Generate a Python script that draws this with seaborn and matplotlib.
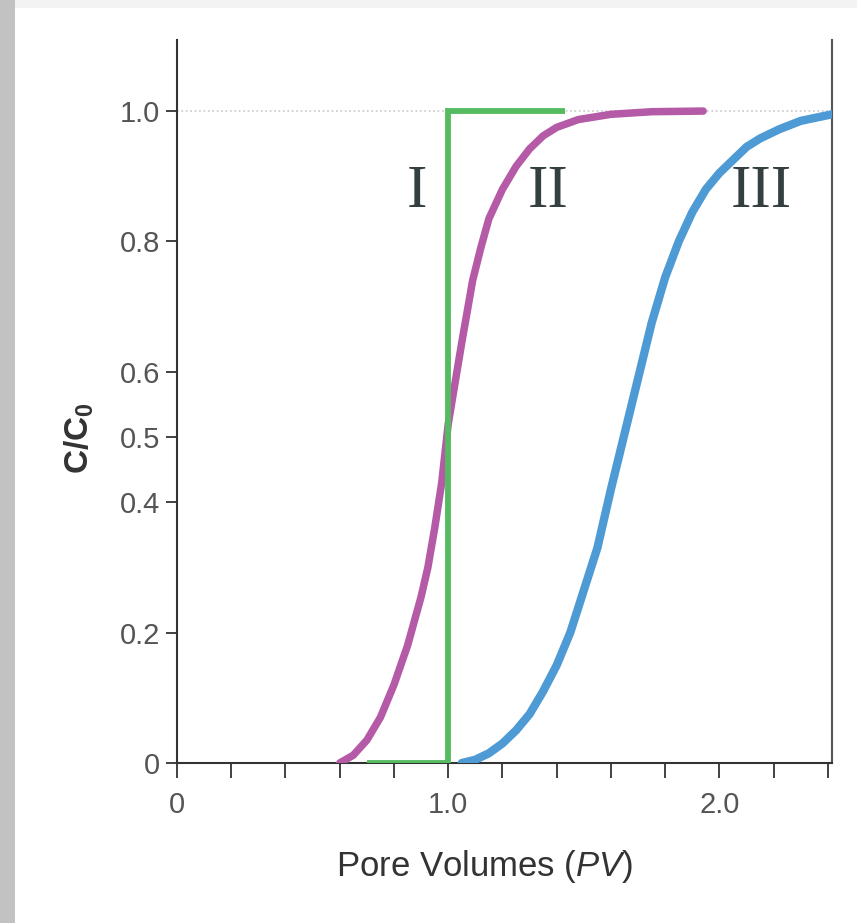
import matplotlib
matplotlib.use("Agg")
import matplotlib.pyplot as plt
import seaborn as sns
import pandas as pd
from matplotlib.patches import Rectangle

# ---- data ----
curve_I_x = [0.70, 1.00, 1.00, 1.43]
curve_I_y = [0.0, 0.0, 1.0, 1.0]

curve_II_x = [0.60, 0.65, 0.70, 0.75, 0.80, 0.85, 0.90, 0.925, 0.95, 0.976,
              1.00, 1.05, 1.09, 1.12, 1.15, 1.20, 1.25, 1.30, 1.35, 1.40,
              1.48, 1.60, 1.75, 1.94]
curve_II_y = [0.0, 0.012, 0.035, 0.07, 0.12, 0.18, 0.255, 0.30, 0.36, 0.43,
              0.52, 0.645, 0.74, 0.79, 0.835, 0.88, 0.915, 0.942, 0.962, 0.975,
              0.987, 0.995, 0.999, 1.0]

curve_III_x = [1.05, 1.10, 1.15, 1.20, 1.25, 1.30, 1.35, 1.40, 1.45, 1.50,
               1.55, 1.60, 1.65, 1.70, 1.75, 1.80, 1.85, 1.90, 1.95, 2.00,
               2.05, 2.10, 2.15, 2.22, 2.30, 2.415]
curve_III_y = [0.0, 0.005, 0.015, 0.03, 0.05, 0.075, 0.11, 0.15, 0.20, 0.265,
               0.33, 0.42, 0.505, 0.59, 0.675, 0.745, 0.80, 0.845, 0.88, 0.905,
               0.925, 0.945, 0.958, 0.972, 0.985, 0.995]

curve_labels = ["I", "II", "III"]
label_x = [0.885, 1.37, 2.155]
label_y = [0.875, 0.875, 0.875]

xticks = [0.0, 0.2, 0.4, 0.6, 0.8, 1.0, 1.2, 1.4, 1.6, 1.8, 2.0, 2.2, 2.4]
xticklabels = ["0", "", "", "", "", "1.0", "", "", "", "", "2.0", "", ""]
yticks = [0.0, 0.2, 0.4, 0.5, 0.6, 0.8, 1.0]
yticklabels = ["0", "0.2", "0.4", "0.5", "0.6", "0.8", "1.0"]

# ---- styling ----
sns.set_theme(style="white")
plt.rcParams["font.family"] = ["Liberation Sans", "DejaVu Sans"]
plt.rcParams["mathtext.fontset"] = "custom"
plt.rcParams["mathtext.rm"] = "Liberation Sans"
plt.rcParams["mathtext.it"] = "Liberation Sans:italic"
plt.rcParams["mathtext.bf"] = "Liberation Sans:bold"

fig = plt.figure(figsize=(8.57, 9.23), dpi=100)
fig.patch.set_facecolor("white")
# scanned-page borders
fig.patches.append(Rectangle((0, 0), 15 / 857, 1, transform=fig.transFigure,
                             facecolor="#c2c2c2", edgecolor="none", zorder=0))
fig.patches.append(Rectangle((15 / 857, 1 - 8 / 923), 1, 8 / 923, transform=fig.transFigure,
                             facecolor="#f3f3f3", edgecolor="none", zorder=0))

ax = fig.add_axes([177 / 857, 1 - 763 / 923, 655 / 857, 723 / 923])
ax.set_facecolor("white")

# reference line at C/C0 = 1
ax.axhline(1.0, color="#c8c8c8", lw=1.2, ls=":", zorder=1)

dfI = pd.DataFrame({"x": curve_I_x, "y": curve_I_y})
dfII = pd.DataFrame({"x": curve_II_x, "y": curve_II_y})
dfIII = pd.DataFrame({"x": curve_III_x, "y": curve_III_y})

sns.lineplot(data=dfII, x="x", y="y", sort=False, estimator=None, ax=ax,
             color="#b45aa6", lw=5.4, solid_capstyle="round", solid_joinstyle="round", zorder=3)
sns.lineplot(data=dfIII, x="x", y="y", sort=False, estimator=None, ax=ax,
             color="#4d9ad5", lw=6.0, solid_capstyle="round", solid_joinstyle="round", zorder=3)
sns.lineplot(data=dfI, x="x", y="y", sort=False, estimator=None, ax=ax,
             color="#55bb60", lw=4.2, solid_capstyle="butt", solid_joinstyle="miter", zorder=4)

for lab, lx, ly in zip(curve_labels, label_x, label_y):
    ax.text(lx, ly, lab, ha="center", va="center", fontsize=44,
            family=["Liberation Serif", "DejaVu Serif"], color="#34403f", zorder=5)

ax.set_xlim(0, 2.415)
ax.set_ylim(0, 1.109)

ax.set_xticks(xticks)
ax.set_xticklabels(xticklabels)
ax.set_yticks(yticks)
ax.set_yticklabels(yticklabels)
ax.tick_params(axis="x", direction="out", length=11, width=1.3, color="#333333",
               labelsize=21, labelcolor="#555555", pad=9, bottom=True)
ax.tick_params(axis="y", direction="out", length=8, width=1.3, color="#333333",
               labelsize=21, labelcolor="#555555", pad=4, left=True)

for s in ["left", "bottom", "right"]:
    ax.spines[s].set_visible(True)
    ax.spines[s].set_color("#333333")
    ax.spines[s].set_linewidth(1.5)
ax.spines["right"].set_color("#555555")
ax.spines["top"].set_visible(False)
ax.grid(False)

ax.set_xlabel(r"Pore Volumes $\mathit{(PV)}$", fontsize=25, color="#333333")
ax.xaxis.set_label_coords(0.47, -0.118)
ax.set_ylabel(r"C/C$_\mathbf{0}$", fontsize=24, fontweight="bold", color="#333333")
ax.yaxis.set_label_coords(-0.124, 0.45)

fig.savefig("out.png", dpi=100, facecolor=fig.get_facecolor())
